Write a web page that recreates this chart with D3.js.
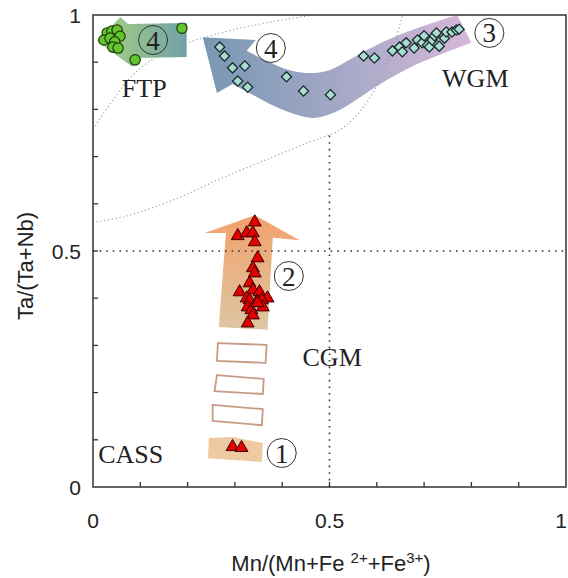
<!DOCTYPE html>
<html>
<head>
<meta charset="utf-8">
<script src="https://cdn.jsdelivr.net/npm/d3@7"></script>
<style>
  html, body { margin: 0; padding: 0; background: #fff; }
  svg { display: block; }
</style>
</head>
<body>
<div id="chart"></div>
<script>
// ---------------- data (all in data units) ----------------
const xTickLabels = [0, 0.5, 1];
const yTickLabels = [0, 0.5, 1];
const minorTicks = [0.1, 0.2, 0.3, 0.4, 0.5, 0.6, 0.7, 0.8, 0.9];

// FTP (green circles)
const ftpX = [0.030, 0.040, 0.051, 0.057, 0.023, 0.036, 0.046, 0.042, 0.053, 0.188, 0.089];
const ftpY = [0.962, 0.966, 0.968, 0.955, 0.947, 0.951, 0.943, 0.932, 0.930, 0.972, 0.905];

// WGM (diamonds)
const wgmX = [0.268, 0.278, 0.295, 0.321, 0.306, 0.327, 0.409, 0.445, 0.502, 0.572, 0.595, 0.633,
              0.648, 0.654, 0.662, 0.679, 0.686, 0.696, 0.700, 0.707, 0.711, 0.717, 0.722, 0.726,
              0.732, 0.743, 0.747, 0.759, 0.768, 0.774];
const wgmY = [0.932, 0.913, 0.888, 0.892, 0.860, 0.847, 0.869, 0.839, 0.831, 0.913, 0.909, 0.924,
              0.932, 0.922, 0.941, 0.930, 0.947, 0.941, 0.956, 0.936, 0.932, 0.947, 0.956, 0.962,
              0.934, 0.951, 0.964, 0.964, 0.968, 0.970];

// CGM (red triangles)
const cgmX = [0.342, 0.306, 0.325, 0.338, 0.342, 0.348, 0.338, 0.342, 0.331, 0.310, 0.338, 0.352,
              0.325, 0.331, 0.346, 0.369, 0.357, 0.359, 0.327, 0.335, 0.338, 0.327, 0.348];
const cgmY = [0.561, 0.532, 0.538, 0.538, 0.519, 0.485, 0.464, 0.453, 0.432, 0.413, 0.417, 0.413,
              0.400, 0.396, 0.392, 0.400, 0.396, 0.381, 0.381, 0.375, 0.364, 0.347, 0.390];

// CASS (red triangles)
const cassX = [0.295, 0.314];
const cassY = [0.085, 0.083];

// Field / evolution shapes
const ftpArrow = [[0.008,0.945],[0.058,0.996],[0.074,0.981],[0.198,0.983],[0.198,0.911],[0.090,0.909],[0.084,0.890]];
const wgmHead = [[0.295,0.854],[0.262,0.835],[0.232,0.953],[0.344,0.947],[0.325,0.924]];
const wgmTop = [[0.325,0.924],[0.373,0.900],[0.416,0.883],[0.458,0.877],[0.500,0.883],[0.542,0.905],
                [0.595,0.934],[0.648,0.958],[0.711,0.981],[0.770,1.000]];
const wgmBottom = [[0.800,0.941],[0.732,0.915],[0.669,0.888],[0.605,0.852],[0.553,0.818],[0.511,0.794],
                   [0.468,0.782],[0.426,0.790],[0.373,0.812],[0.321,0.840],[0.295,0.854]];
const cgmArrow = [[0.342,0.576],[0.437,0.523],[0.380,0.528],[0.369,0.333],[0.266,0.339],[0.281,0.538],[0.236,0.538]];
const cgmBoxes = [
  [[0.264,0.305],[0.367,0.301],[0.365,0.263],[0.262,0.267]],
  [[0.262,0.237],[0.361,0.229],[0.359,0.197],[0.257,0.203]],
  [[0.253,0.174],[0.359,0.165],[0.357,0.131],[0.253,0.140]]
];
const cassField = [[0.245,0.104],[0.295,0.106],[0.359,0.093],[0.357,0.053],[0.243,0.061]];

const smallEllipse = [[0,0.758],[0.042,0.820],[0.084,0.873],[0.141,0.915],[0.205,0.943],
                      [0.310,0.972],[0.416,0.992],[0.468,1.0]];
const bigEllipse = [[0,0.561],[0.063,0.572],[0.169,0.608],[0.274,0.655],[0.380,0.699],[0.458,0.731],
                    [0.521,0.756],[0.563,0.794],[0.595,0.841],[0.622,0.900],[0.641,0.951],[0.654,1.0]];
const refH = [[0,0.5],[1,0.5]];
const refV = [[0.5,0],[0.5,0.745]];

const fieldLabels = ["FTP", "WGM", "CGM", "CASS"];
const fieldLabelX = [0.061, 0.738, 0.443, 0.011];
const fieldLabelY = [0.826, 0.847, 0.256, 0.051];

const stageNums = ["1", "2", "3", "4", "4"];
const stageX = [0.399, 0.414, 0.838, 0.127, 0.376];
const stageY = [0.072, 0.447, 0.962, 0.947, 0.930];

// ---------------- drawing ----------------
const W = 568, H = 578;
const svg = d3.select("#chart").append("svg").attr("width", W).attr("height", H);
const x = d3.scaleLinear().domain([0, 1]).range([93, 566]);
const y = d3.scaleLinear().domain([0, 1]).range([487, 15]);

const defs = svg.append("defs");
function grad(id, x1, y1, x2, y2, stops) {
  const g = defs.append("linearGradient").attr("id", id)
    .attr("x1", x1).attr("y1", y1).attr("x2", x2).attr("y2", y2);
  stops.forEach(s => g.append("stop").attr("offset", s[0]).attr("stop-color", s[1]));
}
grad("gGreen", "0", "0", "1", "0", [["0%", "#a9d47e"], ["100%", "#6fa2a8"]]);
grad("gBlue", "0", "0", "1", "0", [["0%", "#7897b3"], ["45%", "#9ea6c4"], ["100%", "#d7b8da"]]);
grad("gOrange", "0", "0", "0", "1", [["0%", "#f3a16c"], ["100%", "#dcc6a2"]]);
defs.append("clipPath").attr("id", "plotClip").append("rect")
  .attr("x", x(0)).attr("y", y(1)).attr("width", x(1) - x(0)).attr("height", y(0) - y(1));

const lin = d3.line().x(d => x(d[0])).y(d => y(d[1]));
const smooth = d3.line().x(d => x(d[0])).y(d => y(d[1])).curve(d3.curveCatmullRom.alpha(0.5));

const plot = svg.append("g").attr("clip-path", "url(#plotClip)");

// shapes
plot.append("path").attr("d", lin(ftpArrow) + "Z").attr("fill", "url(#gGreen)");
const wgmPath = lin(wgmHead) + smooth(wgmTop).replace(/^M/, "L") + smooth(wgmBottom).replace(/^M/, "L") + "Z";
plot.append("path").attr("d", wgmPath).attr("fill", "url(#gBlue)");
plot.append("path").attr("d", lin(cgmArrow) + "Z").attr("fill", "url(#gOrange)");
cgmBoxes.forEach(b => plot.append("path").attr("d", lin(b) + "Z")
  .attr("fill", "none").attr("stroke", "#c79a86").attr("stroke-width", 1.8));
plot.append("path").attr("d", lin(cassField) + "Z").attr("fill", "#efc9a1");

// dotted guides
[smallEllipse, bigEllipse].forEach(e => plot.append("path").attr("d", smooth(e))
  .attr("fill", "none").attr("stroke", "#9a9a9a").attr("stroke-width", 1.1).attr("stroke-dasharray", "1.2,2.6"));
[refH, refV].forEach(r => plot.append("path").attr("d", lin(r))
  .attr("fill", "none").attr("stroke", "#333").attr("stroke-width", 1.6).attr("stroke-dasharray", "1.6,5"));

// markers
const tri = d3.symbol().type(d3.symbolTriangle).size(72);
const sq = d3.symbol().type(d3.symbolSquare).size(52);
const ptsOf = (xs, ys) => xs.map((v, i) => [v, ys[i]]);

plot.append("g").selectAll("path").data(ptsOf(wgmX, wgmY)).join("path")
  .attr("d", sq).attr("transform", d => `translate(${x(d[0])},${y(d[1])}) rotate(45)`)
  .attr("fill", "#a9ddd4").attr("stroke", "#1c2b2b").attr("stroke-width", 1.3);
plot.append("g").selectAll("circle").data(ptsOf(ftpX, ftpY)).join("circle")
  .attr("cx", d => x(d[0])).attr("cy", d => y(d[1])).attr("r", 5.2)
  .attr("fill", "#62c42e").attr("stroke", "#22380f").attr("stroke-width", 1.2);
plot.append("g").selectAll("path").data(ptsOf(cgmX, cgmY).concat(ptsOf(cassX, cassY))).join("path")
  .attr("d", tri).attr("transform", d => `translate(${x(d[0])},${y(d[1])})`)
  .attr("fill", "#e30000").attr("stroke", "#3a0000").attr("stroke-width", 1);

// labels
const serif = "'Liberation Serif','Times New Roman',serif";
const sans = "'Liberation Sans',Arial,sans-serif";
fieldLabels.forEach((t, i) => svg.append("text").attr("x", x(fieldLabelX[i])).attr("y", y(fieldLabelY[i]))
  .attr("font-family", serif).attr("font-size", 26).attr("fill", "#222").text(t));
stageNums.forEach((t, i) => {
  const g = svg.append("g").attr("transform", `translate(${x(stageX[i])},${y(stageY[i])})`);
  g.append("circle").attr("r", 14.5).attr("fill", "none").attr("stroke", "#333").attr("stroke-width", 1);
  g.append("text").attr("y", 9.5).attr("text-anchor", "middle").attr("font-family", serif)
    .attr("font-size", 27).attr("fill", "#222").text(t);
});

// frame & axes
const axisColor = "#333";
svg.append("rect").attr("x", x(0)).attr("y", y(1)).attr("width", x(1) - x(0)).attr("height", y(0) - y(1))
  .attr("fill", "none").attr("stroke", axisColor).attr("stroke-width", 1.5);
svg.append("g").selectAll("line").data(minorTicks).join("line")
  .attr("x1", d => x(d)).attr("x2", d => x(d)).attr("y1", y(0)).attr("y2", y(0) - 5)
  .attr("stroke", axisColor).attr("stroke-width", 1.3);
svg.append("g").selectAll("line").data(minorTicks).join("line")
  .attr("y1", d => y(d)).attr("y2", d => y(d)).attr("x1", x(0)).attr("x2", x(0) + 5)
  .attr("stroke", axisColor).attr("stroke-width", 1.3);

svg.append("g").selectAll("text").data(xTickLabels).join("text")
  .attr("x", d => d === 1 ? W - 1 : x(d)).attr("y", 528)
  .attr("text-anchor", d => d === 1 ? "end" : "middle")
  .attr("font-family", sans).attr("font-size", 21).attr("fill", "#222").text(d => d);
svg.append("g").selectAll("text").data(yTickLabels).join("text")
  .attr("x", 81).attr("y", d => y(d) + 7.5).attr("text-anchor", "end")
  .attr("font-family", sans).attr("font-size", 21).attr("fill", "#222").text(d => d);

const xt = svg.append("text").attr("x", 331).attr("y", 571).attr("text-anchor", "middle")
  .attr("font-family", sans).attr("font-size", 22).attr("fill", "#222");
xt.append("tspan").text("Mn/(Mn+Fe ");
xt.append("tspan").attr("font-size", 15).attr("baseline-shift", "super").text("2+");
xt.append("tspan").text("+Fe");
xt.append("tspan").attr("font-size", 15).attr("baseline-shift", "super").text("3+");
xt.append("tspan").text(")");

svg.append("text").attr("transform", "translate(33,266) rotate(-90)").attr("text-anchor", "middle")
  .attr("font-family", sans).attr("font-size", 22).attr("fill", "#222").text("Ta/(Ta+Nb)");
</script>
</body>
</html>
